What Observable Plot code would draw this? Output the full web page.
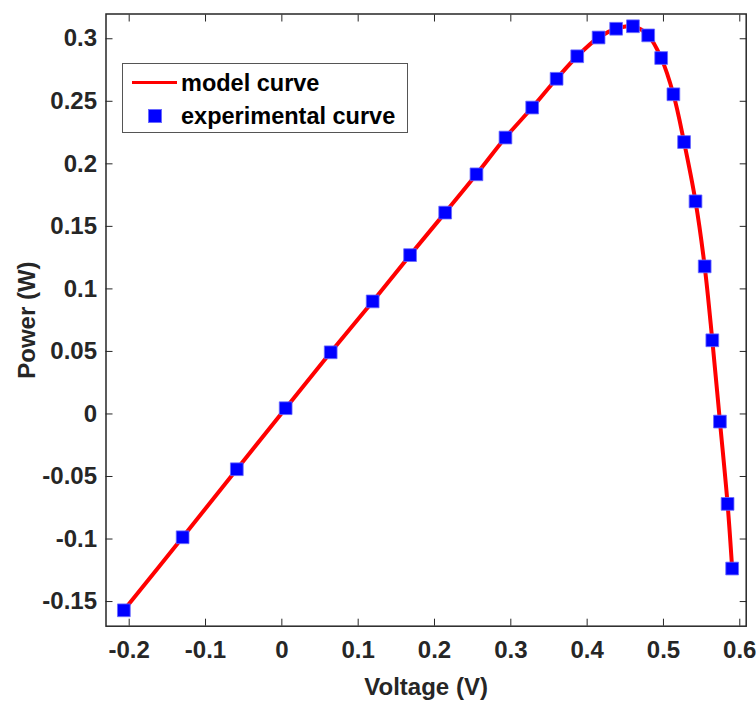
<!DOCTYPE html>
<html><head><meta charset="utf-8">
<script src="https://cdn.jsdelivr.net/npm/d3@7"></script>
<script src="https://cdn.jsdelivr.net/npm/@observablehq/plot@0.6"></script>
<style>
body{margin:0;background:#fff;font-family:"Liberation Sans",Arial,sans-serif;}
#wrap{position:relative;width:756px;height:702px;}
.legend{position:absolute;left:122px;top:63px;width:286px;height:70px;border:1px solid #555;background:#fff;box-sizing:border-box;}
.lg-line{position:absolute;left:9px;top:17px;width:45px;height:3px;background:#ff0000;}
.lg-sq{position:absolute;left:25px;top:45px;width:12px;height:12px;background:#0000ff;border:0.5px solid #6a6aff;}
.lg-txt{position:absolute;left:58px;font-weight:bold;font-size:23.5px;line-height:24px;color:#000;white-space:nowrap;}
</style>
</head><body>
<div id="wrap"></div>
<script>
// experimental data (voltage V, power W)
const voltage = [-0.207, -0.130, -0.059, 0.005, 0.064, 0.119, 0.168, 0.214, 0.255, 0.293, 0.328, 0.360, 0.387, 0.415, 0.438, 0.460, 0.480, 0.497, 0.513, 0.527, 0.542, 0.554, 0.564, 0.574, 0.584, 0.590];
const power   = [-0.157, -0.0986, -0.0442, 0.0046, 0.0493, 0.090, 0.127, 0.161, 0.1916, 0.221, 0.245, 0.268, 0.286, 0.301, 0.308, 0.310, 0.3027, 0.2846, 0.2556, 0.2174, 0.170, 0.118, 0.0589, -0.0061, -0.0719, -0.1236];
// model curve
const modelVoltage = voltage.slice();
const modelPower = power.slice();
// ticks
const xTicks = [-0.2, -0.1, 0, 0.1, 0.2, 0.3, 0.4, 0.5, 0.6];
const yTicks = [-0.15, -0.1, -0.05, 0, 0.05, 0.1, 0.15, 0.2, 0.25, 0.3];

const expData = voltage.map((v, i) => ({v, p: power[i]}));
const modelData = modelVoltage.map((v, i) => ({v, p: modelPower[i]}));
const fmt = d => String(Math.round(d * 100) / 100);
const blank = () => "";

const chart = Plot.plot({
  width: 756, height: 702,
  marginLeft: 105.5, marginRight: 10.3, marginTop: 13.5, marginBottom: 76.3,
  x: {domain: [-0.2304, 0.6084]},
  y: {domain: [-0.1697, 0.3198]},
  style: {fontFamily: "'Liberation Sans', Arial, sans-serif", fontSize: "21px", fontWeight: "bold", color: "#262626", background: "#fff"},
  marks: [
    Plot.axisX({ticks: xTicks, tickSize: -7, tickPadding: 22, tickFormat: fmt, label: "Voltage (V)", labelArrow: "none", labelAnchor: "center", labelOffset: 69, fontSize: 24}),
    Plot.axisX({anchor: "top", ticks: xTicks, tickSize: -7, tickFormat: blank, label: null}),
    Plot.axisY({ticks: yTicks, tickSize: -7, tickPadding: 16, tickFormat: fmt, label: "Power (W)", labelArrow: "none", labelAnchor: "center", labelOffset: 88, fontSize: 24}),
    Plot.axisY({anchor: "right", ticks: yTicks, tickSize: -7, tickFormat: blank, label: null}),
    Plot.frame({stroke: "#262626", strokeWidth: 1.5}),
    Plot.line(modelData, {x: "v", y: "p", stroke: "#ff0000", strokeWidth: 4, curve: "catmull-rom"}),
    Plot.dot(expData, {x: "v", y: "p", symbol: "square", r: 7.2, fill: "#0000ff", stroke: "#6a6aff", strokeWidth: 0.8})
  ]
});
const wrap = document.getElementById("wrap");
wrap.appendChild(chart);
const lg = document.createElement("div");
lg.className = "legend";
lg.innerHTML = '<div class="lg-line"></div><div class="lg-txt" style="top:7px">model curve</div>' +
               '<div class="lg-sq"></div><div class="lg-txt" style="top:40px">experimental curve</div>';
wrap.appendChild(lg);
</script>
</body></html>
